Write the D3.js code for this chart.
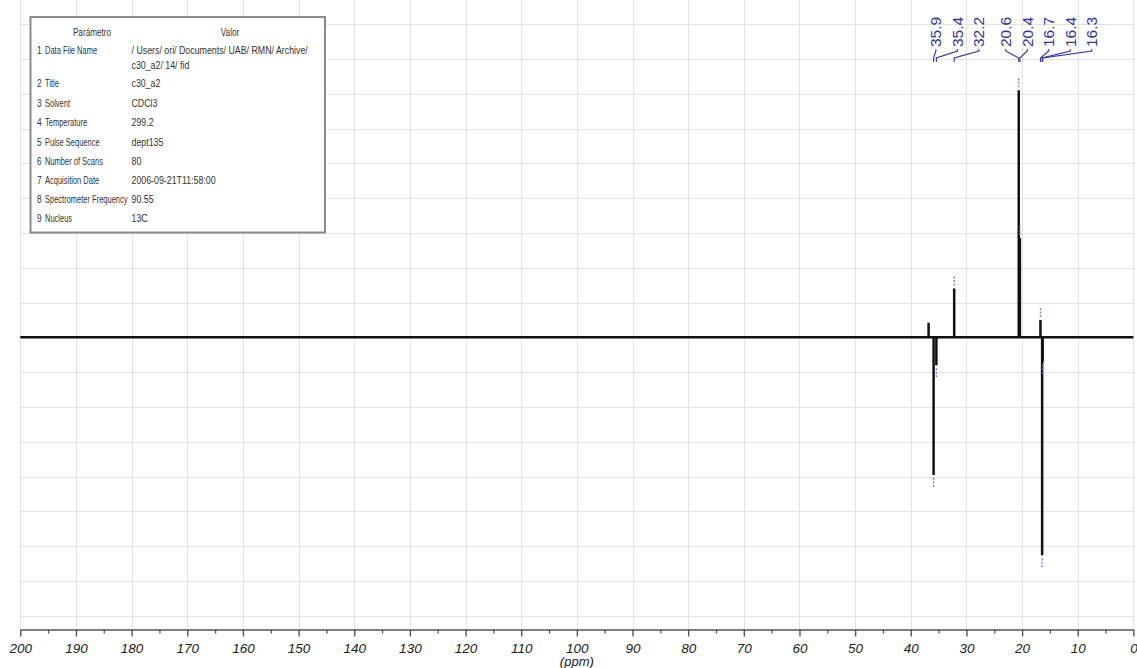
<!DOCTYPE html>
<html>
<head>
<meta charset="utf-8">
<script src="https://cdn.jsdelivr.net/npm/d3@7"></script>
<style>
  html, body { margin: 0; padding: 0; background: #fff; }
  svg { display: block; }
</style>
</head>
<body>
<svg id="chart" width="1137" height="668"></svg>
<script>
// 13C DEPT-135 spectrum of c30_a2 (CDCl3)

// Picked peaks: chemical shift (ppm) and intensity (grid units, negative = CH2)
const peakPpm       = [35.9, 35.4, 32.2, 20.6, 20.4, 16.7, 16.4, 16.3];
const peakIntensity = [-3.96, -0.8, 1.4, 7.1, 2.85, 0.5, -6.26, -0.7];

// Minor unlabelled signal in the trace
const extraPpm       = [36.8];
const extraIntensity = [0.42];

// Axis ticks
const majorTicks = [200, 190, 180, 170, 160, 150, 140, 130, 120, 110, 100, 90, 80, 70, 60, 50, 40, 30, 20, 10, 0];
const minorTicks = [195, 185, 175, 165, 155, 145, 135, 125, 115, 105, 95, 85, 75, 65, 55, 45, 35, 25, 15, 5];
const gridLevels = [-8, -7, -6, -5, -4, -3, -2, -1, 0, 1, 2, 3, 4, 5, 6, 7, 8, 9];

// Acquisition parameter table
const paramNames  = ["Data File Name", "Title", "Solvent", "Temperature", "Pulse Sequence",
                     "Number of Scans", "Acquisition Date", "Spectrometer Frequency", "Nucleus"];
const paramValues = [["/ Users/ ori/ Documents/ UAB/ RMN/ Archive/", "c30_a2/ 14/ fid"],
                     ["c30_a2"], ["CDCl3"], ["299.2"], ["dept135"], ["80"],
                     ["2006-09-21T11:58:00"], ["90.55"], ["13C"]];

const svg = d3.select("#chart");
const W = 1137, H = 668;
svg.append("rect").attr("width", W).attr("height", H).attr("fill", "#fff");

const x = d3.scaleLinear().domain([200, 0]).range([20.3, 1133.4]);
const y = d3.scaleLinear().domain([-8, 9]).range([615.7, 24.1]);
const axisY = 629.5;

// Grid
const grid = svg.append("g").attr("stroke", "#e3e3e3").attr("stroke-width", 1).attr("shape-rendering", "crispEdges");
grid.selectAll("line.v").data(majorTicks).join("line")
  .attr("class", "v")
  .attr("x1", d => Math.round(x(d)) + 0.5).attr("x2", d => Math.round(x(d)) + 0.5)
  .attr("y1", 0).attr("y2", axisY);
grid.selectAll("line.h").data(gridLevels).join("line")
  .attr("class", "h")
  .attr("x1", x(200)).attr("x2", x(0))
  .attr("y1", d => Math.round(y(d)) + 0.5).attr("y2", d => Math.round(y(d)) + 0.5);

// Spectrum trace: baseline with a stick for every signal
const signals = peakPpm.map((p, i) => ({ ppm: p, h: peakIntensity[i] }))
  .concat(extraPpm.map((p, i) => ({ ppm: p, h: extraIntensity[i] })))
  .sort((a, b) => b.ppm - a.ppm);
const tracePts = [[200, 0]];
signals.forEach(s => { tracePts.push([s.ppm, 0], [s.ppm, s.h], [s.ppm, 0]); });
tracePts.push([0, 0]);
const line = d3.line().x(d => x(d[0])).y(d => y(d[1]));
svg.append("path")
  .attr("d", line(tracePts))
  .attr("fill", "none")
  .attr("stroke", "#111")
  .attr("stroke-width", 2.5)
  .attr("stroke-linejoin", "miter");

// Peak-pick markers just beyond each tip
const blue = "#34349e";
svg.append("g").selectAll("line").data(peakPpm.map((p, i) => ({ ppm: p, h: peakIntensity[i] }))).join("line")
  .attr("x1", d => x(d.ppm)).attr("x2", d => x(d.ppm))
  .attr("y1", d => y(d.h) + (d.h > 0 ? -3 : 3))
  .attr("y2", d => y(d.h) + (d.h > 0 ? -12 : 12))
  .attr("stroke", "#7c7cc4")
  .attr("stroke-width", 1.4)
  .attr("stroke-dasharray", "2,1.5");

// Peak labels: spread horizontally without overlap (pool-adjacent-violators)
const gap = 21.5, shift = 16;
const targets = peakPpm.map((p, i) => x(p) + shift - i * gap);
let blocks = [];
targets.forEach((t, i) => {
  blocks.push({ sum: t, n: 1, start: i });
  while (blocks.length > 1 && blocks[blocks.length - 2].sum / blocks[blocks.length - 2].n > blocks[blocks.length - 1].sum / blocks[blocks.length - 1].n) {
    const b = blocks.pop();
    blocks[blocks.length - 1].sum += b.sum;
    blocks[blocks.length - 1].n += b.n;
  }
});
const labelX = [];
blocks.forEach(b => { for (let k = 0; k < b.n; k++) labelX.push(b.sum / b.n + (b.start + k) * gap); });

const labelBottom = 47;
const lab = svg.append("g");
lab.selectAll("path").data(peakPpm).join("path")
  .attr("d", (p, i) => {
    const lx = labelX[i], px = x(p);
    return `M${lx},${labelBottom + 2}L${lx},${labelBottom + 4}L${px},${labelBottom + 11}L${px},${labelBottom + 15}`;
  })
  .attr("fill", "none").attr("stroke", blue).attr("stroke-width", 1.1);
lab.selectAll("text").data(peakPpm).join("text")
  .attr("transform", (p, i) => `translate(${labelX[i]},${labelBottom}) rotate(-90)`)
  .attr("dy", "0.36em")
  .attr("text-anchor", "start")
  .attr("font-family", "'Liberation Sans', Arial, sans-serif")
  .attr("font-size", 15.5)
  .attr("fill", blue)
  .text(p => p.toFixed(1));

// Axis
const axisG = svg.append("g").attr("transform", `translate(0,${axisY})`);
axisG.call(d3.axisBottom(x).tickValues(majorTicks).tickSize(7).tickSizeOuter(0).tickFormat(d3.format("d")));
axisG.select(".domain").attr("stroke", "#555").attr("stroke-width", 1.6);
axisG.selectAll(".tick line").attr("stroke", "#555").attr("stroke-width", 1.4);
axisG.selectAll(".tick text")
  .attr("y", 14)
  .attr("fill", "#222")
  .attr("font-family", "'Liberation Sans', Arial, sans-serif")
  .attr("font-style", "italic")
  .attr("font-size", 13.5);
const minorG = svg.append("g").attr("transform", `translate(0,${axisY})`);
minorG.call(d3.axisBottom(x).tickValues(minorTicks).tickSize(4).tickSizeOuter(0).tickFormat(""));
minorG.select(".domain").remove();
minorG.selectAll(".tick line").attr("stroke", "#555").attr("stroke-width", 1.3);

svg.append("text")
  .attr("x", x(100)).attr("y", 666)
  .attr("text-anchor", "middle")
  .attr("fill", "#222")
  .attr("font-family", "'Liberation Sans', Arial, sans-serif")
  .attr("font-style", "italic")
  .attr("font-size", 13)
  .text("(ppm)");

// Parameter table (narrow text via horizontal scaling)
const tbl = svg.append("g")
  .attr("font-family", "'Liberation Sans', Arial, sans-serif")
  .attr("font-size", 10.5)
  .attr("fill", "#333");
tbl.append("rect")
  .attr("x", 30.5).attr("y", 17).attr("width", 294.5).attr("height", 215.5)
  .attr("fill", "#fff").attr("stroke", "#8a8a8a").attr("stroke-width", 2);
function cell(tx, ty, str, sx, anchor) {
  tbl.append("text")
    .attr("transform", `translate(${tx},${ty}) scale(${sx},1)`)
    .attr("text-anchor", anchor || "start")
    .text(str);
}
cell(92, 35.5, "Parámetro", 0.78, "middle");
cell(230, 35.5, "Valor", 0.78, "middle");

const rowCenters = [50, 83, 103, 122, 142, 161, 180, 199, 218];
paramNames.forEach((name, i) => {
  const cy = rowCenters[i] + 3.5;
  cell(37, cy, String(i + 1), 0.8);
  cell(45, cy, name, 0.715);
  paramValues[i].forEach((v, j) => cell(131.5, cy + j * 15, v, 0.84));
});
</script>
</body>
</html>
